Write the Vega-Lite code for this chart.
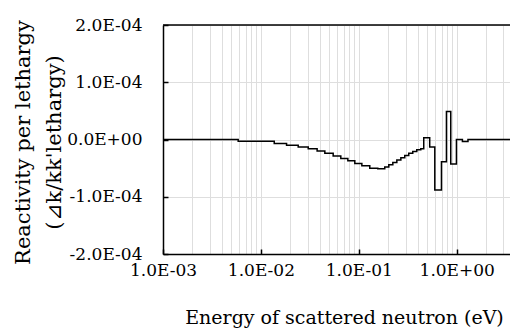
{
  "$schema": "https://vega.github.io/schema/vega-lite/v6.json",
  "width": 347,
  "height": 229,
  "autosize": {"type": "none"},
  "padding": {"left": 163, "top": 25, "right": 0, "bottom": 75},
  "background": "white",
  "config": {
    "view": {"stroke": null},
    "font": "DejaVu Serif",
    "axis": {
      "labelFont": "DejaVu Serif",
      "titleFont": "DejaVu Serif",
      "labelColor": "black",
      "titleColor": "black",
      "titleFontWeight": "normal",
      "domainColor": "black",
      "domainWidth": 1.5,
      "tickColor": "black",
      "tickWidth": 1.5,
      "gridColor": "#dedede",
      "gridWidth": 1,
      "labelOverlap": false,
      "labelFlush": false,
      "labelBound": false
    }
  },
  "layer": [
    {
      "data": {
        "values": [
          {"E": 0.001, "v": 0},
          {"E": 0.00586, "v": -3e-6},
          {"E": 0.01368, "v": -7e-6},
          {"E": 0.01828, "v": -1.0e-5},
          {"E": 0.02404, "v": -1.3e-5},
          {"E": 0.03043, "v": -1.6e-5},
          {"E": 0.0375, "v": -2.0e-5},
          {"E": 0.04498, "v": -2.4e-5},
          {"E": 0.05471, "v": -2.9e-5},
          {"E": 0.06546, "v": -3.3e-5},
          {"E": 0.07727, "v": -3.7e-5},
          {"E": 0.09099, "v": -4.2e-5},
          {"E": 0.1074, "v": -4.6e-5},
          {"E": 0.1294, "v": -5.0e-5},
          {"E": 0.1563, "v": -5.1e-5},
          {"E": 0.1841, "v": -4.8e-5},
          {"E": 0.2024, "v": -4.4e-5},
          {"E": 0.2225, "v": -4.0e-5},
          {"E": 0.2445, "v": -3.6e-5},
          {"E": 0.2688, "v": -3.2e-5},
          {"E": 0.2947, "v": -2.8e-5},
          {"E": 0.3236, "v": -2.4e-5},
          {"E": 0.3556, "v": -2.1e-5},
          {"E": 0.3908, "v": -1.8e-5},
          {"E": 0.4295, "v": -1.6e-5},
          {"E": 0.4603, "v": 3e-6},
          {"E": 0.5297, "v": -1.3e-5},
          {"E": 0.597, "v": -8.8e-5},
          {"E": 0.6983, "v": -3.9e-5},
          {"E": 0.7852, "v": 4.9e-5},
          {"E": 0.869, "v": -4.3e-5},
          {"E": 0.9931, "v": 0},
          {"E": 1.143, "v": -3.5e-6},
          {"E": 1.303, "v": 0},
          {"E": 3.5, "v": 0}
        ]
      },
      "mark": {"type": "line", "interpolate": "step-after", "color": "black", "strokeWidth": 1.5},
      "encoding": {
        "x": {
          "field": "E",
          "type": "quantitative",
          "scale": {"type": "log", "domain": [0.001, 3.5], "nice": false},
          "axis": {
            "title": "Energy of scattered neutron (eV)",
            "titleFontSize": 19,
            "titleBaseline": "top",
            "titleAlign": "center",
            "titleX": 181,
            "titleY": 54,
            "labelFontSize": 17,
            "labelPadding": 13,
            "tickSize": -5,
            "grid": true,
            "values": [0.001, 0.002, 0.003, 0.004, 0.005, 0.006, 0.007, 0.008, 0.009, 0.01, 0.02, 0.03, 0.04, 0.05, 0.06, 0.07, 0.08, 0.09, 0.1, 0.2, 0.3, 0.4, 0.5, 0.6, 0.7, 0.8, 0.9, 1, 2, 3],
            "tickOpacity": {"condition": {"test": "abs(log(datum.value)/LN10 - round(log(datum.value)/LN10)) < 0.001", "value": 1}, "value": 0},
            "labelExpr": "abs(log(datum.value)/LN10 - round(log(datum.value)/LN10)) < 0.001 ? ('1.0E' + (round(log(datum.value)/LN10) < 0 ? '-0' + (-round(log(datum.value)/LN10)) : '+0' + round(log(datum.value)/LN10))) : ''"
          }
        },
        "y": {
          "field": "v",
          "type": "quantitative",
          "scale": {"domain": [-0.0002, 0.0002], "nice": false, "zero": false},
          "axis": {
            "title": ["Reactivity per lethargy", "(⊿k/kk'lethargy)"],
            "titleFontSize": 21,
            "titleLineHeight": 31,
            "titleAngle": -90,
            "titleBaseline": "top",
            "titleAlign": "center",
            "titleX": -151,
            "titleY": 117,
            "labelFontSize": 17,
            "labelPadding": 26,
            "tickSize": -5,
            "grid": true,
            "values": [-0.0002, -0.0001, 0, 0.0001, 0.0002],
            "labelExpr": "datum.value == 0 ? '0.0E+00' : ((datum.value < 0 ? '-' : '') + format(abs(datum.value) * 10000, '.1f') + 'E-04')"
          }
        }
      }
    },
    {
      "data": {"values": [{"top": 0.0002}]},
      "mark": {"type": "rule", "color": "black", "strokeWidth": 1.5},
      "encoding": {"y": {"field": "top", "type": "quantitative"}}
    }
  ]
}
